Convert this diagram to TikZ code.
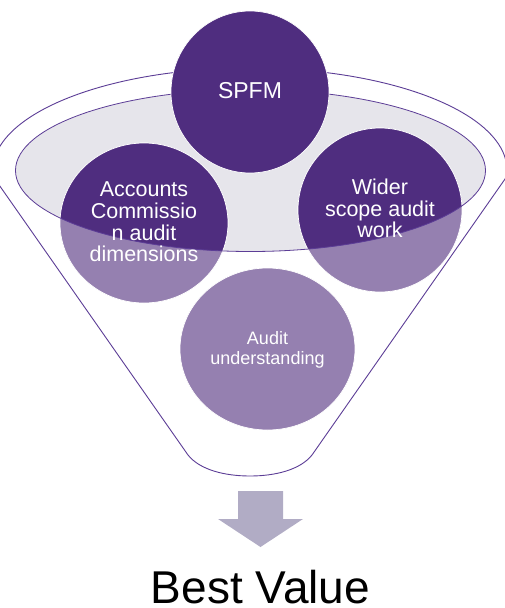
\documentclass[tikz,border=0pt]{standalone}
\usepackage{fontspec}
\setmainfont{Liberation Sans}
\usepackage{xcolor}
\usepackage{tikz}
\usetikzlibrary{positioning}

\definecolor{darkplum}{HTML}{4F2D7F}
\definecolor{softplum}{HTML}{9580B0}
\definecolor{rimgrey}{HTML}{E6E5EB}
\definecolor{funnelline}{HTML}{5C3D96}
\definecolor{arrowgrey}{HTML}{B1ACC5}

\begin{document}
\begin{tikzpicture}[x=1pt, y=-1pt,
    ball/.style={draw=white, line width=0.7pt},
    balltext/.style={text=white, align=center, inner sep=0pt, font=\fontsize{21.5}{21.7}\selectfont}]
    \useasboundingbox (0,0) rectangle (504,608);

    % Centres of the balls
    \coordinate (spfm) at (250,92);
    \coordinate (acc) at (144,223);
    \coordinate (wider) at (380,210);
    \coordinate (aud) at (267.5,349);

    % Funnel
    \draw[funnelline, line width=0.9pt, fill=white] (188,455) -- (-6.4,177.1)
        arc[start angle=176, end angle=364, x radius=257, y radius=102] -- (312,455)
        .. controls (300,470) and (275,476) .. (250,476)
        .. controls (225,476) and (200,470) .. (188,455) -- cycle;
    \fill[rimgrey] (250.5,170.5) ellipse [x radius=235, y radius=81];

    % Balls below the rim
    \filldraw[ball, fill=softplum] (acc) ellipse [x radius=84, y radius=80];
    \filldraw[ball, fill=softplum] (wider) ellipse [x radius=82, y radius=82];
    \filldraw[ball, fill=softplum] (aud) ellipse [x radius=87.5, y radius=81];

    % Balls inside the rim
    \begin{scope}
        \clip (250.5,170.5) ellipse [x radius=235, y radius=81];
        \filldraw[ball, fill=darkplum] (acc) ellipse [x radius=84, y radius=80];
        \filldraw[ball, fill=darkplum] (wider) ellipse [x radius=82, y radius=82];
    \end{scope}
    \draw[funnelline, line width=0.8pt] (250.5,170.5) ellipse [x radius=235, y radius=81];

    % Top ball
    \filldraw[ball, fill=darkplum] (spfm) ellipse [x radius=79, y radius=81];

    % Labels
    \node[balltext, font=\fontsize{23}{23}\selectfont] (spfmtext) at (250,90.8) {SPFM};
    \node[balltext] (acctext) at (144,222) {Accounts\\Commissio\\n audit\\dimensions};
    \node[balltext] (widertext) at (380,208.5) {Wider\\scope audit\\work};
    \node[balltext, font=\fontsize{18}{20}\selectfont] (audtext) at (267.5,350.2) {Audit\\understanding};

    % Arrow and result
    \fill[arrowgrey] (238,491) -- (283,491) -- (283,519) -- (303,519) -- (260.5,547)
        -- (218,519) -- (238,519) -- cycle;
    \node[anchor=base, inner sep=0pt, font=\fontsize{46}{46}\selectfont] (best) at (260.5,603.5) {Best Value};
\end{tikzpicture}
\end{document}
